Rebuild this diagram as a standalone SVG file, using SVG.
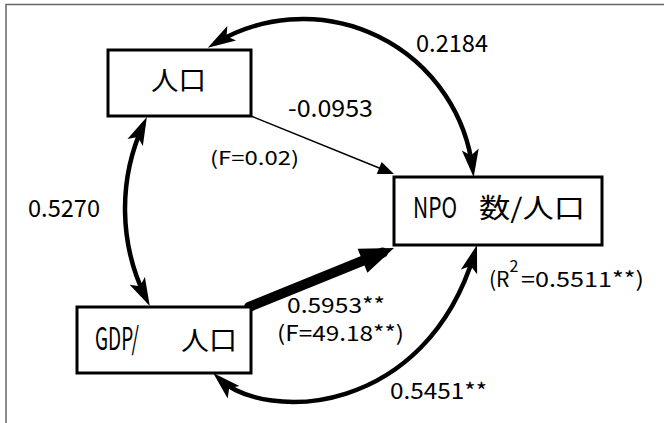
<svg xmlns="http://www.w3.org/2000/svg" width="664" height="423" viewBox="0 0 664 423">
<style>
  .box { fill: #ffffff; stroke: #000000; stroke-width: 3; }
  .t { font-family: "Noto Sans CJK JP", "Liberation Sans", sans-serif; fill: #000000; }
  .arc { fill: none; stroke: #000000; stroke-width: 4.5; }
  .frame { fill: none; stroke: #666666; stroke-width: 1.5; }
</style>
<defs>
  <marker id="ah" markerUnits="userSpaceOnUse" orient="auto-start-reverse" overflow="visible" refX="0" refY="0" markerWidth="1" markerHeight="1">
    <path d="M8,0 L-20,-8.5 L-14,0 L-20,8.5 Z" fill="#000000"/>
  </marker>
  <marker id="ahs" markerUnits="userSpaceOnUse" orient="auto" overflow="visible" refX="0" refY="0" markerWidth="1" markerHeight="1">
    <path d="M8,0 L-8,-6.5 L-8,6.5 Z" fill="#000000"/>
  </marker>
  <marker id="ahb" markerUnits="userSpaceOnUse" orient="auto" overflow="visible" refX="0" refY="0" markerWidth="1" markerHeight="1">
    <path d="M12,0 L-22,-13 L-22,13 Z" fill="#000000"/>
  </marker>
</defs>
<rect width="664" height="423" fill="#ffffff"/>
<path class="frame" d="M6,423 V4.5 H664"/>

<g id="connectors">
  <path id="c-pop-npo-corr" class="arc" d="M214.6,43.6 A171,171 0 0,1 472.7,169.3" marker-start="url(#ah)" marker-end="url(#ah)"/>
  <path id="c-pop-gdp-corr" class="arc" d="M143.5,124.3 A202,202 0 0,0 146.2,298.8" marker-start="url(#ah)" marker-end="url(#ah)"/>
  <path id="c-gdp-npo-corr" class="arc" d="M219,378.5 C266,423 426,416 474.7,252.7" marker-start="url(#ah)" marker-end="url(#ah)"/>
  <line id="c-pop-npo" x1="251" y1="116" x2="386.6" y2="171" stroke="#000000" stroke-width="1.5" marker-end="url(#ahs)"/>
  <line id="c-gdp-npo" x1="249" y1="307" x2="382.9" y2="252.5" stroke="#000000" stroke-width="10" stroke-linecap="round" marker-end="url(#ahb)"/>
  <text class="t" x="416" y="52" font-size="24" textLength="72" lengthAdjust="spacingAndGlyphs">0.2184</text>
  <text class="t" x="288" y="117" font-size="24" textLength="85" lengthAdjust="spacingAndGlyphs">-0.0953</text>
  <text class="t" x="210" y="165" font-size="19" textLength="89" lengthAdjust="spacingAndGlyphs">(F=0.02)</text>
  <text class="t" x="28" y="217" font-size="24" textLength="72" lengthAdjust="spacingAndGlyphs">0.5270</text>
  <text class="t" x="287" y="313" font-size="21" textLength="98" lengthAdjust="spacingAndGlyphs">0.5953**</text>
  <text class="t" x="277" y="341" font-size="21" textLength="127" lengthAdjust="spacingAndGlyphs">(F=49.18**)</text>
  <text class="t" x="390" y="399" font-size="22" textLength="97" lengthAdjust="spacingAndGlyphs">0.5451**</text>
  <text class="t" y="287" font-size="21"><tspan x="489">(R</tspan><tspan x="509.5" y="272" font-size="16">2</tspan><tspan x="521" y="287" textLength="123" lengthAdjust="spacingAndGlyphs">=0.5511**)</tspan></text>
</g>

<g id="node-pop">
  <rect class="box" x="108" y="50" width="143" height="66"/>
  <text class="t" x="151" y="90" font-size="26" textLength="55" lengthAdjust="spacingAndGlyphs">人口</text>
</g>

<g id="node-npo">
  <rect class="box" x="394" y="177" width="208" height="68"/>
  <text class="t" y="218"><tspan x="413" font-size="29" textLength="44" lengthAdjust="spacingAndGlyphs">NPO</tspan> <tspan x="479" font-size="27" textLength="106" lengthAdjust="spacingAndGlyphs">数/人口</tspan></text>
</g>

<g id="node-gdp">
  <rect class="box" x="77" y="307" width="174" height="66"/>
  <text class="t" y="350"><tspan x="95" font-size="31" textLength="44" lengthAdjust="spacingAndGlyphs">GDP/</tspan> <tspan x="181" font-size="26" textLength="56" lengthAdjust="spacingAndGlyphs">人口</tspan></text>
</g>
</svg>
